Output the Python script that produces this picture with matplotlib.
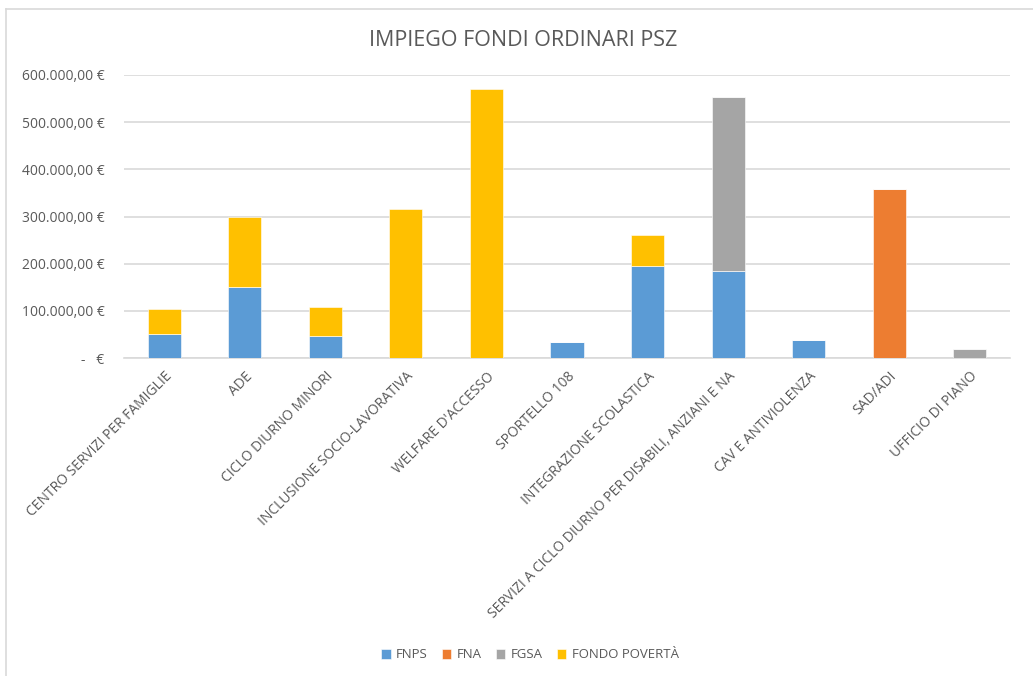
import matplotlib
matplotlib.use("Agg")
import matplotlib.pyplot as plt
from matplotlib.lines import Line2D
import numpy as np

categories = ["CENTRO SERVIZI PER FAMIGLIE", "ADE", "CICLO DIURNO MINORI",
              "INCLUSIONE SOCIO-LAVORATIVA", "WELFARE D'ACCESSO", "SPORTELLO 108",
              "INTEGRAZIONE SCOLASTICA", "SERVIZI A CICLO DIURNO PER DISABILI, ANZIANI E NA",
              "CAV E ANTIVIOLENZA", "SAD/ADI", "UFFICIO DI PIANO"]
fnps = [51000, 150000, 46000, 0, 0, 33000, 194000, 184000, 38000, 0, 0]
fna = [0, 0, 0, 0, 0, 0, 0, 0, 0, 359000, 0]
fgsa = [0, 0, 0, 0, 0, 0, 0, 370000, 0, 0, 18500]
fondo_poverta = [53000, 150000, 62000, 316000, 570000, 0, 66000, 0, 0, 0, 0]
series_names = ["FNPS", "FNA", "FGSA", "FONDO POVERTÀ"]
yticks = [0, 100000, 200000, 300000, 400000, 500000, 600000]
ytick_labels = ["-   €", "100.000,00 €", "200.000,00 €", "300.000,00 €",
                "400.000,00 €", "500.000,00 €", "600.000,00 €"]

colors = ["#5B9BD5", "#ED7D31", "#A5A5A5", "#FFC000"]
plt.rcParams['font.family'] = ['Open Sans', 'DejaVu Sans']
txt = "#595959"

fig = plt.figure(figsize=(10.33, 6.76), dpi=100)
ax = fig.add_axes([124/1033, 1-358/676, (1010-124)/1033, (358-75)/676])

x = np.arange(len(categories))
w = 0.41
bottom = np.zeros(len(categories))
for vals, c, name in zip([fnps, fna, fgsa, fondo_poverta], colors, series_names):
    v = np.array(vals, dtype=float)
    ax.bar(x, v, w, bottom=bottom, color=c, label=name, zorder=3,
           edgecolor="white", linewidth=0.4)
    bottom += v

ax.set_xlim(-0.5, len(categories)-0.5)
ax.set_ylim(0, 600000)
ax.set_yticks(yticks)
ax.set_yticklabels(ytick_labels, color=txt, fontsize=10)
ax.set_xticks(x)
ax.set_xticklabels(categories, rotation=45, ha='right', rotation_mode='anchor',
                   color=txt, fontsize=10)
ax.tick_params(axis='both', length=0)
ax.tick_params(axis='y', pad=14)
ax.tick_params(axis='x', pad=8)
ax.grid(axis='y', color="#D9D9D9", linewidth=1.2, zorder=0)
for s in ["top", "right", "left"]:
    ax.spines[s].set_visible(False)
ax.spines["bottom"].set_color("#D9D9D9")
ax.spines["bottom"].set_linewidth(1.2)

fig.text(523/1033, 1-41/676, "IMPIEGO FONDI ORDINARI PSZ", ha='center', va='center',
         fontsize=15.5, color=txt)

handles, labels = ax.get_legend_handles_labels()
fig.legend(handles, labels, loc='center', bbox_to_anchor=(530/1033, 1-655/676),
           ncol=4, frameon=False, fontsize=9.5, labelcolor=txt,
           handlelength=0.7, handleheight=0.7, handletextpad=0.4, columnspacing=1.1)

# chart frame (top & left visible)
fig.add_artist(Line2D([6/1033, 1.0], [1-9/676, 1-9/676], color="#D9D9D9", lw=1.2))
fig.add_artist(Line2D([6/1033, 6/1033], [0, 1-9/676], color="#D9D9D9", lw=1.2))

fig.savefig("out.png", dpi=100)
